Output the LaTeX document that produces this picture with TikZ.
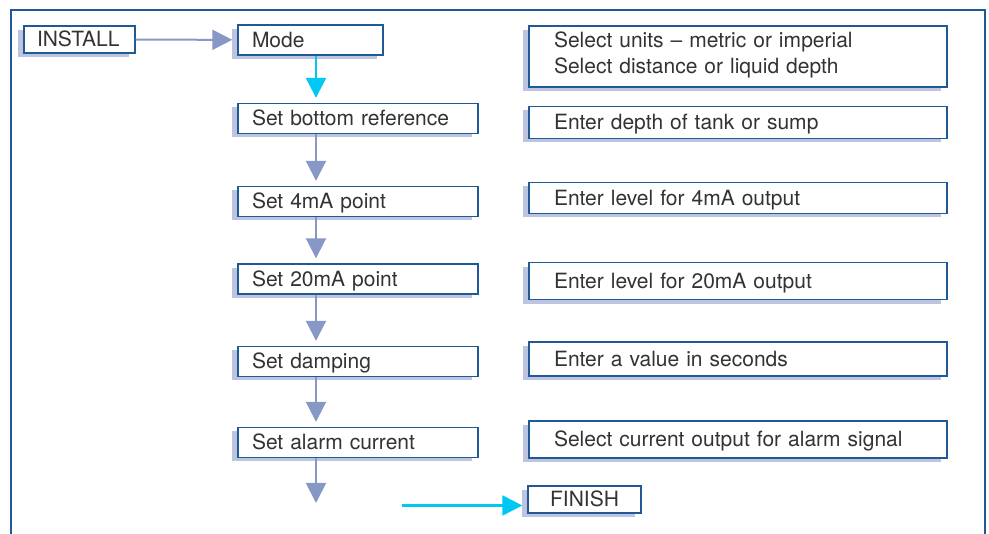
\documentclass[tikz,border=0pt]{standalone}
\usepackage{fontspec}
\setmainfont{TeX Gyre Heros}
\usetikzlibrary{arrows.meta,shadows}
\definecolor{frameblue}{HTML}{1F5A96}
\definecolor{shadowblue}{HTML}{BCC4DF}
\definecolor{flowgrey}{HTML}{8797C6}
\definecolor{flowcyan}{HTML}{00C8F2}
\definecolor{inktext}{HTML}{333333}

\begin{document}
\begin{tikzpicture}[x=1pt,y=-1pt]
\tikzstyle{every node}+=[inner sep=0pt, text=inktext, font=\fontsize{21pt}{26pt}\selectfont]
\tikzstyle{tagbox}=[draw=frameblue, line width=1.4pt, fill=white, text height=15pt, text depth=0pt, general shadow={fill=shadowblue, shadow xshift=-6pt, shadow yshift=-4pt}]
\tikzstyle{stepbox}=[tagbox, minimum height=30pt, text width=212pt, inner xsep=14pt, align=left]
\tikzstyle{notebox}=[tagbox, minimum height=32pt, text width=368pt, inner xsep=25pt, align=left]
\tikzstyle{flow}=[flowgrey, line width=2pt, -{Triangle[length=20pt,width=20pt]}, shorten >=5pt]
\tikzstyle{flowlit}=[flow, flowcyan, line width=2.4pt]
\useasboundingbox (0,0) rectangle (989,534);
\draw [frameblue, line width=2.6pt] (11,545) -- (11,10) -- (985,10) -- (985,545);
\node [tagbox, minimum height=27pt, text width=85pt, inner xsep=13pt, align=left] (install) at (79.5,39.5) {INSTALL};
\node [stepbox, text width=117pt] (mode) at (310.5,40) {Mode};
\node [stepbox] (botref) at (358,118.5) {Set bottom reference};
\node [stepbox] (ma4) at (358,201.5) {Set 4mA point};
\node [stepbox] (ma20) at (358,279) {Set 20mA point};
\node [stepbox] (damp) at (358,361.5) {Set damping};
\node [stepbox] (alarm) at (358,442.5) {Set alarm current};
\node [tagbox, minimum width=113pt, minimum height=27pt] (finish) at (584.5,499.5) {FINISH};
\node [notebox, minimum height=61pt, text height=15pt, text depth=33pt] (units) at (738,56.5) {Select units -- metric or imperial\\Select distance or liquid depth};
\node [notebox] (depth) at (738,122.5) {Enter depth of tank or sump};
\node [notebox, minimum height=31pt] (ma4note) at (738,198) {Enter level for 4mA output};
\node [notebox, minimum height=37pt] (ma20note) at (738,281.3) {Enter level for 20mA output};
\node [notebox, minimum height=34pt] (dampnote) at (738,359) {Enter a value in seconds};
\node [notebox, minimum height=37pt] (alarmnote) at (738,439.5) {Select current output for alarm signal};
\coordinate (spine) at (316,0);
\coordinate (tail) at (316,503);
\coordinate (lead) at (402,505.5);
\draw [flow] (install) -- (mode);
\draw [flowlit] (mode.south -| spine) -- (botref.north -| spine);
\draw [flow] (botref.south -| spine) -- (ma4.north -| spine);
\draw [flow] (ma4.south -| spine) -- (ma20.north -| spine);
\draw [flow] (ma20.south -| spine) -- (damp.north -| spine);
\draw [flow] (damp.south -| spine) -- (alarm.north -| spine);
\draw [flow, shorten >=0pt] (alarm.south -| spine) -- (tail);
\draw [flowlit] (lead) -- (lead -| finish.west);
\end{tikzpicture}
\end{document}
